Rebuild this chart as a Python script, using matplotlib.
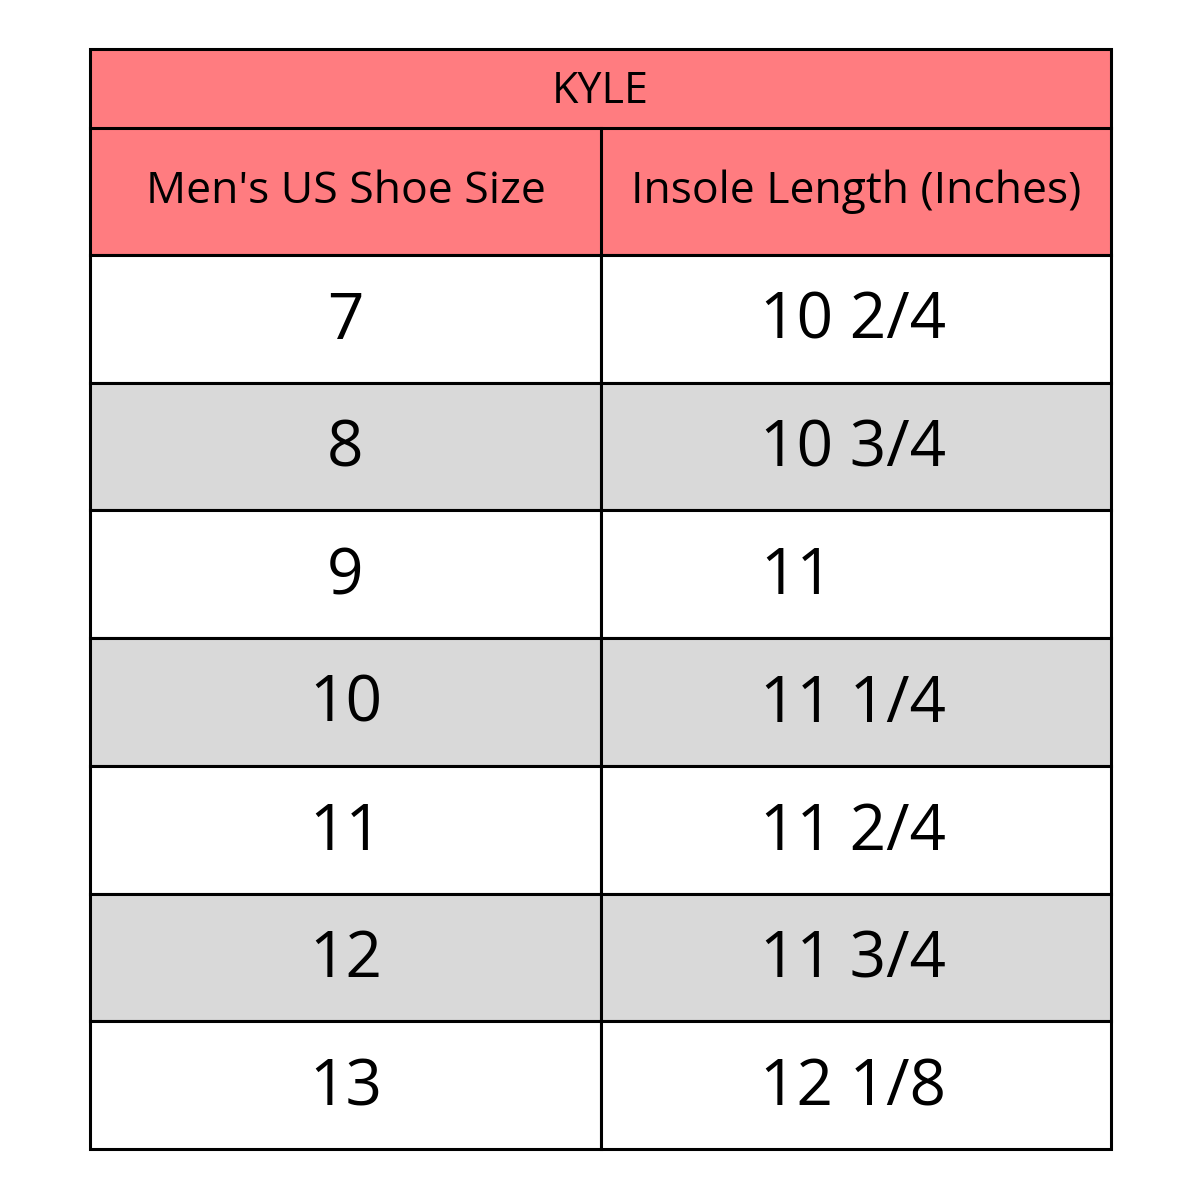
import matplotlib
matplotlib.use("Agg")
import matplotlib.pyplot as plt
from matplotlib.patches import Rectangle

title = "KYLE"
headers = ["Men's US Shoe Size", "Insole Length (Inches)"]
sizes = ["7", "8", "9", "10", "11", "12", "13"]
lengths = ["10 2/4", "10 3/4", "11", "11 1/4", "11 2/4", "11 3/4", "12 1/8"]

fig = plt.figure(figsize=(12, 12), dpi=100)
ax = fig.add_axes([0, 0, 1, 1])
ax.set_xlim(0, 1200)
ax.set_ylim(1200, 0)
ax.axis("off")

L, R, M = 90, 1111, 601
top, title_b, head_b = 49, 128, 255
rh = (1149 - 255) / len(sizes)
pink = "#FF7C80"
gray = "#D9D9D9"
font = "Open Sans"
lw = 2.2

ax.add_patch(Rectangle((L, top), R - L, head_b - top, fc=pink, ec="black", lw=lw))
ax.plot([L, R], [title_b, title_b], color="black", lw=lw)
ax.plot([M, M], [title_b, head_b], color="black", lw=lw)
ax.text((L + R) / 2, (top + title_b) / 2 + 3, title, ha="center", va="center", fontsize=31, family=font)
ax.text((L + M) / 2, (title_b + head_b) / 2, headers[0], ha="center", va="center", fontsize=32, family=font)
ax.text((M + R) / 2, (title_b + head_b) / 2, headers[1], ha="center", va="center", fontsize=32, family=font)

for i, (s, l) in enumerate(zip(sizes, lengths)):
    y0 = head_b + i * rh
    fc = gray if i % 2 == 1 else "white"
    ax.add_patch(Rectangle((L, y0), M - L, rh, fc=fc, ec="black", lw=lw))
    ax.add_patch(Rectangle((M, y0), R - M, rh, fc=fc, ec="black", lw=lw))
    ax.text((L + M) / 2, y0 + rh / 2 + 3, s, ha="center", va="center", fontsize=46, family=font)
    ax.text(760, y0 + rh / 2 + 3, l, ha="left", va="center", fontsize=46, family=font)

fig.savefig("out.png", dpi=100, facecolor="white")
